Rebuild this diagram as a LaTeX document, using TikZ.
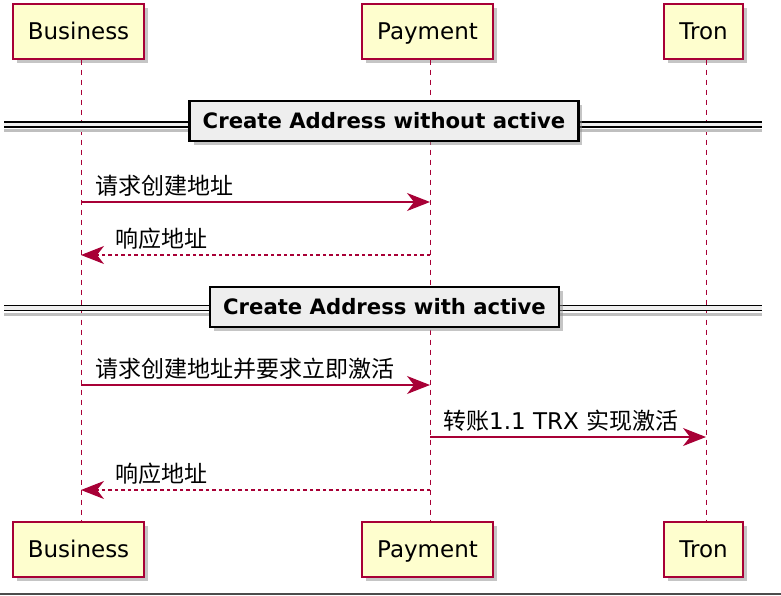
\documentclass[tikz,border=0pt]{standalone}
\usepackage{fontspec}
\setmainfont{DejaVu Sans}
\newfontfamily\cjk{Noto Sans CJK SC}
\usetikzlibrary{arrows.meta,shadows}
\definecolor{umlred}{HTML}{A80036}
\definecolor{umlfill}{HTML}{FEFECE}
\definecolor{sepfill}{HTML}{EEEEEE}

\begin{document}
\begin{tikzpicture}[x=1pt,y=-1pt,
    actor/.style={
      draw=umlred, line width=2pt, fill=umlfill,
      minimum height=55pt, inner xsep=15pt,
      text height=19pt, text depth=3pt,
      font=\fontsize{23}{23}\selectfont,
      drop shadow={shadow xshift=4pt, shadow yshift=-4pt, fill=black!45, opacity=.5}},
    life/.style={umlred, line width=1pt, dash pattern=on 5pt off 5pt},
    msg/.style={umlred, line width=1.2pt,
      -{Stealth[length=23pt, width=18pt, inset=7pt]}},
    reply/.style={msg, dash pattern=on 3.5pt off 3pt},
    lbl/.style={anchor=base west, inner sep=0pt,
      font=\cjk\fontsize{23}{23}\selectfont},
    sep/.style={
      draw=black, line width=2.5pt, fill=sepfill,
      minimum height=40pt, inner xsep=13pt,
      font=\bfseries\fontsize{21.2}{21.2}\selectfont,
      drop shadow={shadow xshift=4pt, shadow yshift=-4pt, fill=black!45, opacity=.5}},
    sepline/.style={draw=black, double=sepfill, double distance=3.6pt, line width=1.3pt}]

    \useasboundingbox (0,0) rectangle (781,595);

    % participants
    \node[actor] (bizT)  at (78.5,31)  {Business};
    \node[actor] (payT)  at (427.5,31) {Payment};
    \node[actor] (tronT) at (703.5,31) {Tron};
    \node[actor] (bizB)  at (78.5,549)  {Business};
    \node[actor] (payB)  at (427.5,549) {Payment};
    \node[actor] (tronB) at (703.5,549) {Tron};

    % lifelines
    \coordinate (bL) at ([xshift=2.5pt]bizT.south);
    \coordinate (pL) at ([xshift=2.5pt]payT.south);
    \coordinate (tL) at ([xshift=2.5pt]tronT.south);
    \draw [life] (bL) -- ([xshift=2.5pt]bizB.north);
    \draw [life] (pL) -- ([xshift=2.5pt]payB.north);
    \draw [life] (tL) -- ([xshift=2.5pt]tronB.north);

    % dividers
    \coordinate (s1w) at (4,124.5);
    \coordinate (s1e) at (762,124.5);
    \coordinate (s2w) at (4,308);
    \coordinate (s2e) at (762,308);
    \draw [black!25, line width=3pt] ([yshift=-6pt]s1w) -- ([yshift=-6pt]s1e);
    \draw [black!25, line width=3pt] ([yshift=-6pt]s2w) -- ([yshift=-6pt]s2e);
    \draw [sepline] (s1w) -- (s1e);
    \draw [sepline] (s2w) -- (s2e);
    \node[sep] (sep1) at (384,121) {Create Address without active};
    \node[sep] (sep2) at (384.5,307) {Create Address with active};

    % message rows
    \foreach \n/\y in {m1/202, m2/255, m3/385, m4/437, m5/490}
      \coordinate (\n) at (0,\y);

    \draw [msg]   (bL |- m1) -- (pL |- m1);
    \draw [reply] (pL |- m2) -- (bL |- m2);
    \draw [msg]   (bL |- m3) -- (pL |- m3);
    \draw [msg]   (pL |- m4) -- (tL |- m4);
    \draw [reply] (pL |- m5) -- (bL |- m5);

    \node[lbl] (t1) at ([xshift=14pt, yshift=8pt]bL |- m1) {请求创建地址};
    \node[lbl] (t2) at ([xshift=34pt, yshift=8pt]bL |- m2) {响应地址};
    \node[lbl] (t3) at ([xshift=14pt, yshift=8pt]bL |- m3) {请求创建地址并要求立即激活};
    \node[lbl] (t4) at ([xshift=13pt, yshift=8pt]pL |- m4) {转账{\rmfamily 1.1 TRX }实现激活};
    \node[lbl] (t5) at ([xshift=34pt, yshift=8pt]bL |- m5) {响应地址};

    % bottom edge
    \coordinate (eW) at (0,594);
    \coordinate (eE) at (781,594);
    \draw [black!70, line width=1.5pt] (eW) -- (eE);
  \end{tikzpicture}
\end{document}
